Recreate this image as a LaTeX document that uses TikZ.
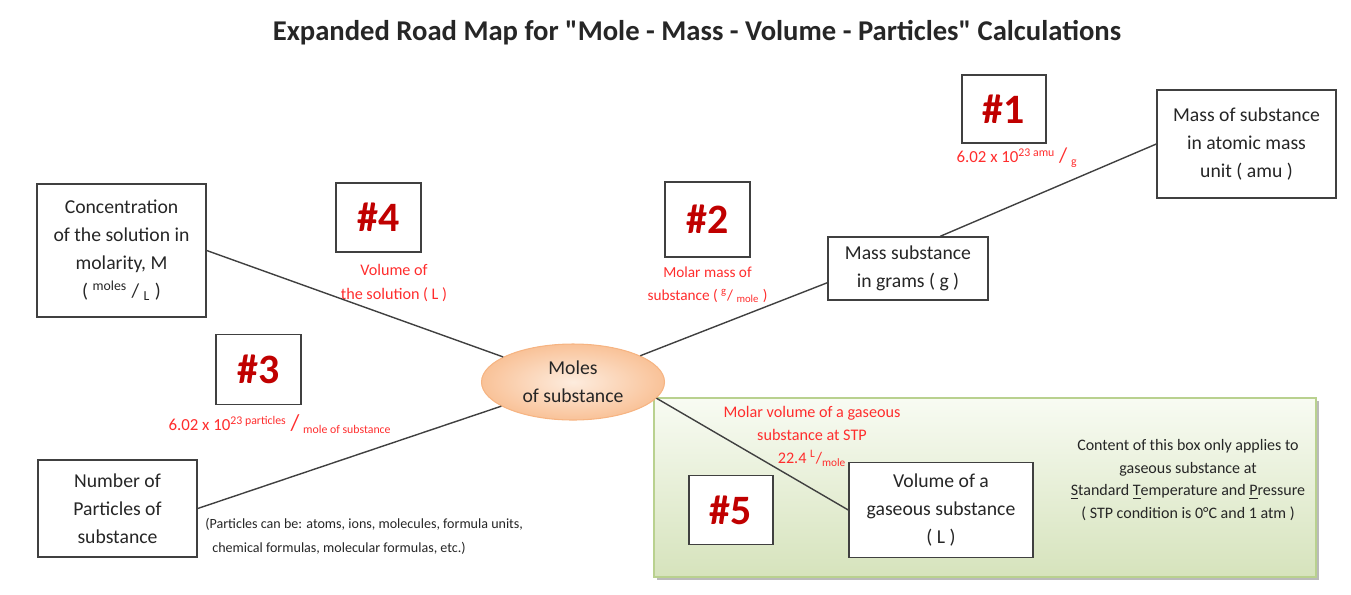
\documentclass[tikz,border=0pt]{standalone}
\usepackage{fontspec}
\setmainfont{Carlito}[Ligatures=TeXOff]
\usepackage{tikz}
\usetikzlibrary{positioning}
\usetikzlibrary{shapes.geometric}
\usetikzlibrary{shadows}
\definecolor{boxgray}{RGB}{64,64,64}
\definecolor{txtgray}{RGB}{38,38,38}
\definecolor{hashred}{RGB}{192,0,0}
\definecolor{labred}{RGB}{255,45,45}
\definecolor{greenline}{RGB}{185,209,143}
\definecolor{greentop}{RGB}{248,251,243}
\definecolor{greenbot}{RGB}{214,227,188}
\definecolor{peachin}{RGB}{253,236,222}
\definecolor{peachout}{RGB}{249,194,152}
\definecolor{peachline}{RGB}{246,180,130}

\begin{document}
\begin{tikzpicture}[on grid,
   box/.style={draw=boxgray,line width=0.8pt,fill=white,align=center,text=txtgray,
      inner sep=0pt,font=\fontsize{11.2}{15.9}\selectfont},
   hashbox/.style={draw=boxgray,line width=0.8pt,fill=white,text=hashred,
      inner sep=0pt,font=\fontsize{23.8}{26}\selectfont\bfseries},
   redlab/.style={align=center,text=labred,inner sep=0pt,font=\fontsize{9.2}{13.3}\selectfont},
   conn/.style={draw=boxgray,line width=0.8pt}]
   \useasboundingbox (0,0) rectangle (27.02,-11.88);
   % title
   \node[font=\fontsize{16.3}{19}\selectfont\bfseries,text=txtgray] (title) at (13.94,-0.66)
      {Expanded Road Map for "Mole - Mass - Volume - Particles" Calculations};
   % STP zone
   \node[draw=greenline,line width=0.8pt,top color=greentop,bottom color=greenbot,
      drop shadow={shadow xshift=1.5pt,shadow yshift=-1.5pt,fill=black!45,opacity=0.6},
      minimum width=13.24cm,minimum height=3.58cm,inner sep=0pt] (zone) at (19.70,-9.75) {};
   \node[ellipse,draw=peachline,line width=0.6pt,inner color=peachin,outer color=peachout,
      minimum width=3.66cm,minimum height=1.52cm,inner sep=0pt,align=center,text=txtgray,
      font=\fontsize{11.2}{15.9}\selectfont] (m) at (11.46,-7.64) {Moles\\of substance};
   \node[box,minimum width=3.2cm,minimum height=1.26cm] (b_g) [above right=2.27cm and 6.70cm of m]
      {Mass substance\\in grams ( g )};
   \node[box,minimum width=3.58cm,minimum height=2.16cm] (b_amu) [above right=2.49cm and 6.77cm of b_g]
      {Mass of substance\\in atomic mass\\unit ( amu )};
   \node[box,minimum width=3.38cm,minimum height=2.66cm] (b_conc) [above left=2.63cm and 9.03cm of m]
      {Concentration\\of the solution in\\molarity, M\\( \textsuperscript{moles} / \textsubscript{L} )};
   \node[box,minimum width=3.18cm,minimum height=1.94cm] (b_part) [below left=2.53cm and 9.11cm of m]
      {Number of\\Particles of\\substance};
   \node[box,minimum width=3.68cm,minimum height=1.9cm] (b_vol) [below right=2.56cm and 7.36cm of m]
      {Volume of a\\gaseous substance\\( L )};
   % numbered steps
   \node[hashbox,minimum width=1.68cm,minimum height=1.36cm] (h_1) [above left=0.70cm and 4.85cm of b_amu] {\#1};
   \node[hashbox,minimum width=1.70cm,minimum height=1.50cm] (h_2) [above left=0.98cm and 4.01cm of b_g] {\#2};
   \node[hashbox,minimum width=1.70cm,minimum height=1.40cm] (h_3) [above left=0.25cm and 6.29cm of m] {\#3};
   \node[hashbox,minimum width=1.70cm,minimum height=1.38cm] (h_4) [above left=3.29cm and 3.89cm of m] {\#4};
   \node[hashbox,minimum width=1.68cm,minimum height=1.38cm] (h_5) [left=4.20cm of b_vol] {\#5};
   % conversion factors
   \node[redlab,font=\fontsize{9.6}{13.3}\selectfont] (l_1) [below right=0.98cm and 0.26cm of h_1]
      {6.02 x 10\textsuperscript{23 amu} {\fontsize{12}{13}\selectfont/} \textsubscript{g}};
   \node[redlab,font=\fontsize{8.7}{13.3}\selectfont] (l_2) [below=1.31cm of h_2]
      {Molar mass of\\substance ( \textsuperscript{g}/ \textsubscript{mole} )};
   \node[redlab,font=\fontsize{9.6}{13.3}\selectfont] (l_3) [below right=1.09cm and 0.43cm of h_3]
      {6.02 x 10\textsuperscript{23 particles} {\fontsize{13}{13}\selectfont/} \textsubscript{mole of substance}};
   \node[redlab] (l_4) [below right=1.31cm and 0.31cm of h_4]
      {Volume of\\the solution ( L )};
   \node[redlab] (l_5) [above left=1.48cm and 2.58cm of b_vol]
      {Molar volume of a gaseous\\substance at STP\\22.4 \textsuperscript{L}/\textsubscript{mole}};
   % notes
   \node[align=left,anchor=west,text=txtgray,inner sep=0pt,font=\fontsize{8}{13.6}\selectfont] (note)
      at (4.10,-10.72) {(Particles can be: atoms, ions, molecules, formula units,\\
      \hspace*{0.14cm}chemical formulas, molecular formulas, etc.)};
   \node[align=center,text=txtgray,inner sep=0pt,font=\fontsize{9.1}{13}\selectfont] (stp)
      [above right=0.60cm and 4.94cm of b_vol]
      {Content of this box only applies to\\gaseous substance at\\
      \underline{S}tandard \underline{T}emperature and \underline{P}ressure\\
      ( STP condition is 0°C and 1 atm )};
    \path[conn]
    (b_conc.east) edge (m)
    (b_part.east) edge (m)
    (m) edge (b_g.190)
    (b_g.45) edge (b_amu.west)
    (m.-11) edge (b_vol.west);
\end{tikzpicture}
\end{document}
